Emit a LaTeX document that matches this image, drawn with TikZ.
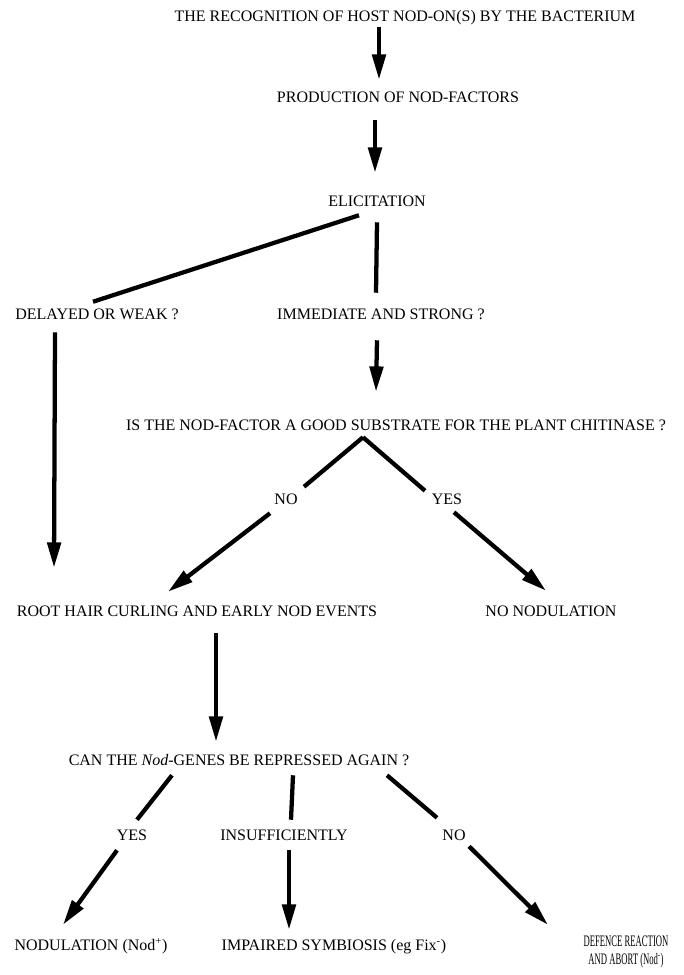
\documentclass[tikz,border=0pt]{standalone}
\usepackage{fontspec}
\setmainfont{Liberation Serif}
\newfontfamily\narrowfont[FakeStretch=0.54]{Liberation Serif}
\usepackage{tikz}
\usetikzlibrary{arrows.meta,calc,positioning}

\begin{document}
\begin{tikzpicture}[x=0.75pt, y=-0.75pt,
    step_text/.style={inner sep=0pt, text height=9.5pt, text depth=2.5pt, font=\fontsize{12}{13.5}\selectfont},
    flow_line/.style={line width=3.2pt},
    flow_arrow/.style={flow_line, ->, >={Triangle[length=19pt, width=10pt]}}]
  \useasboundingbox (0, 0) rectangle (683, 975);
  \node (recognition) [step_text] at (405, 17) {THE RECOGNITION OF HOST NOD-ON(S) BY THE BACTERIUM};
  \node (production) [step_text] at (398, 98) {PRODUCTION OF NOD-FACTORS};
  \node (elicitation) [step_text] at (377, 202) {ELICITATION};
  \node (delayed) [step_text] at (97, 315) {DELAYED OR WEAK ?};
  \node (immediate) [step_text] at (381, 315) {IMMEDIATE AND STRONG ?};
  \node (substrate) [step_text] at (396, 426) {IS THE NOD-FACTOR A GOOD SUBSTRATE FOR THE PLANT CHITINASE ?};
  \node (no_chit) [step_text] at (286, 500) {NO};
  \node (yes_chit) [step_text] at (447, 500) {YES};
  \node (root_hair) [step_text] at (197, 612) {ROOT HAIR CURLING AND EARLY NOD EVENTS};
  \node (no_nodulation) [step_text] at (551, 612) {NO NODULATION};
  \node (repressed) [step_text] at (239, 761) {CAN THE \textit{Nod}-GENES BE REPRESSED AGAIN ?};
  \node (yes_rep) [step_text] at (132, 836) {YES};
  \node (insufficient) [step_text] at (284, 836) {INSUFFICIENTLY};
  \node (no_rep) [step_text] at (454, 836) {NO};
  \node (nodulation) [step_text] at (91, 946) {NODULATION (Nod\textsuperscript{+})};
  \node (impaired) [step_text] at (334, 946) {IMPAIRED SYMBIOSIS (eg Fix\textsuperscript{-})};
  \node (defence) [inner sep=0pt, align=center, font=\narrowfont\fontsize{12}{13.5}\selectfont] at (626, 951.6)
    {DEFENCE REACTION\\AND ABORT (Nod\textsuperscript{-})};

  % main chain
  \draw [flow_arrow] ($(recognition.south)+(-26, 2)$) -- ($(production.north)+(-19, -10)$);
  \draw [flow_arrow] ($(production.south)+(-23, 14)$) -- ($(elicitation.north)+(-2, -21)$);
  \draw [flow_line] ($(elicitation.south)+(-18, 5)$) -- ($(delayed.north)+(-4, -5)$);
  \draw [flow_line] ($(elicitation.south)+(0, 12)$) -- ($(immediate.north)+(-5, -14)$);
  \draw [flow_arrow] ($(delayed.south)+(-42, 9)$) -- ($(root_hair.north)+(-143, -36)$);
  \draw [flow_arrow] ($(immediate.south)+(-4, 17)$) -- ($(substrate.north)+(-20, -26)$);

  % chitinase question
  \draw [flow_line] ($(substrate.south)+(-33, 3)$) -- ($(no_chit.north)+(18, -5)$);
  \draw [flow_line] ($(substrate.south)+(-33, 3)$) -- ($(yes_chit.north)+(-22, -1)$);
  \draw [flow_arrow] ($(no_chit.south)+(-16, 5)$) -- ($(root_hair.north)+(-29, -12)$);
  \draw [flow_arrow] ($(yes_chit.south)+(7, 4)$) -- ($(no_nodulation.north)+(-5, -13)$);
  \draw [flow_arrow] ($(root_hair.south)+(19, 13)$) -- ($(repressed.north)+(-23, -11)$);

  % repression question
  \draw [flow_line] ($(repressed.south)+(-67, 6)$) -- ($(yes_rep.north)+(5, -8)$);
  \draw [flow_line] ($(repressed.south)+(54, 6)$) -- ($(insufficient.north)+(7, -8)$);
  \draw [flow_line] ($(repressed.south)+(148, 6)$) -- ($(no_rep.north)+(-17, -10)$);
  \draw [flow_arrow] ($(yes_rep.south)+(-15, 6)$) -- ($(nodulation.north)+(-28, -13)$);
  \draw [flow_arrow] ($(insufficient.south)+(5, 6)$) -- ($(impaired.north)+(-45, -8)$);
  \draw [flow_arrow] ($(no_rep.south)+(15, 2)$) -- ($(defence.north)+(-78, -10.5)$);
\end{tikzpicture}
\end{document}
